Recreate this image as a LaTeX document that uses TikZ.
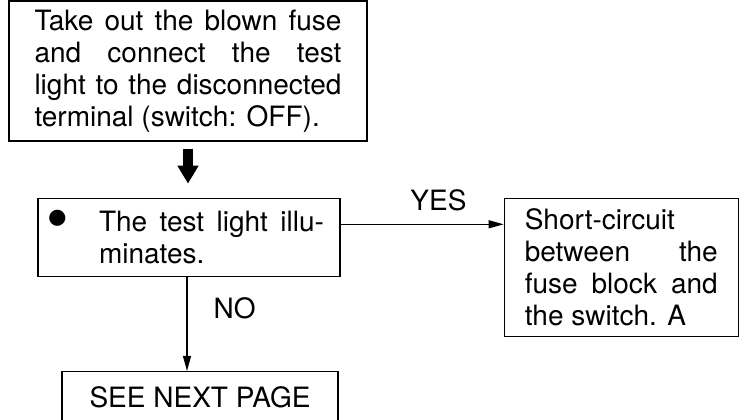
\documentclass[tikz,border=0pt]{standalone}
\usepackage{fontspec}
\setmainfont{TeX Gyre Heros}
\usetikzlibrary{positioning, arrows.meta}
\tolerance=10000
\hbadness=10000

\begin{document}
\begin{tikzpicture}[
    x=1pt, y=1pt,
    >={Triangle[length=15pt, width=8pt]},
    box/.style={draw, line width=1.3pt, inner sep=0pt,
                font=\fontsize{28}{32}\selectfont},
    lbl/.style={font=\fontsize{28}{32}\selectfont, inner sep=0pt},
    flow/.style={->, line width=1.1pt},
    bigflow/.style={-{Triangle[length=18pt, width=20pt]}, line width=10pt},
]
\useasboundingbox (0,0) rectangle (742,-420);

\node[box, minimum width=358pt, minimum height=140pt, text width=307pt, align=justify] (fuse) at (188,-71)
    {\parfillskip=0pt Take out the blown fuse\linebreak and connect the test\linebreak
     light to the disconnected\linebreak terminal (switch: OFF).};
\node[box, minimum width=302pt, minimum height=78pt, below=56pt of fuse, xshift=1pt] (lamp)
    {\makebox[45pt][l]{\hspace*{-8pt}\raisebox{-9pt}{\scalebox{2.3}{\textbullet}}}\parbox[t]{225pt}{The test light illu-\linebreak minates.}};
\node[box, minimum width=234pt, minimum height=138pt, text width=193pt, align=justify,
      below right=0pt and 163pt of lamp.north east] (result)
    {\parfillskip=0pt Short-circuit\newline between the\linebreak fuse block and\linebreak the switch. A};
\node[box, minimum width=276pt, minimum height=52pt, below=94pt of lamp, xshift=11pt] (next) {SEE NEXT PAGE};

\draw[bigflow, shorten <=7pt, shorten >=14pt] (fuse.south) -- (fuse.south |- lamp.north);
\draw[flow] ([yshift=13pt]lamp.east) -- ([yshift=13pt]lamp.east -| result.west)
    node[lbl, pos=0.6, above=13pt] {YES};
\draw[flow] ([xshift=-2pt]lamp.south) -- ([xshift=-2pt]lamp.south |- next.north)
    node[lbl, pos=0.33, right=26pt] {NO};

\end{tikzpicture}
\end{document}
